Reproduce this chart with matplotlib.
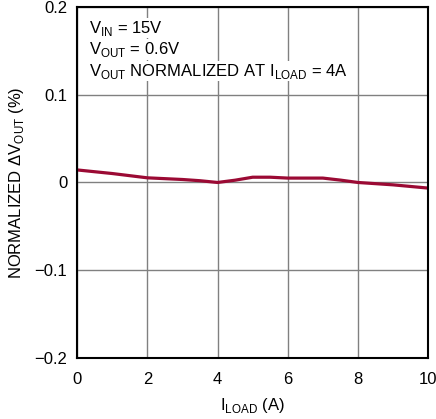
import matplotlib.pyplot as plt

# data
i_load = [0, 1, 2, 3, 3.5, 4, 4.5, 5, 5.5, 6, 7, 7.5, 8, 9, 10]
dv_out = [0.0143, 0.0102, 0.0053, 0.0034, 0.002, 0.0, 0.0026, 0.006, 0.006,
          0.005, 0.005, 0.0027, 0.0, -0.0027, -0.0064]
x_ticks = [0, 2, 4, 6, 8, 10]
y_ticks = [-0.2, -0.1, 0, 0.1, 0.2]
y_tick_labels = ['\u22120.2', '\u22120.1', '0', '0.1', '0.2']

plt.rcParams['font.family'] = ['Liberation Sans', 'DejaVu Sans']
plt.rcParams['mathtext.fontset'] = 'custom'
plt.rcParams['mathtext.rm'] = 'Liberation Sans'

fig = plt.figure(figsize=(4.36, 4.19), dpi=100)
ax = fig.add_axes([0.177, 0.146, 0.805, 0.837])

ax.plot(i_load, dv_out, color='#9b0a34', lw=2.3, solid_capstyle='round')

ax.set_xlim(0, 10)
ax.set_ylim(-0.2, 0.2)
ax.set_xticks(x_ticks)
ax.set_yticks(y_ticks)
ax.set_yticklabels(y_tick_labels)
ax.tick_params(length=0, labelsize=12)
ax.tick_params(axis='x', pad=10)
ax.tick_params(axis='y', pad=7)
ax.grid(True, color='#808080', lw=1)
for s in ax.spines.values():
    s.set_linewidth(1.5)

ax.set_xlabel(r'I$_{\mathregular{LOAD}}$ (A)', fontsize=12, labelpad=7)
ax.set_ylabel(r'NORMALIZED $\Delta$V$_{\mathregular{OUT}}$ (%)', fontsize=12, labelpad=6)

notes = [r'V$_{\mathregular{IN}}$ = 15V',
         r'V$_{\mathregular{OUT}}$ = 0.6V',
         r'V$_{\mathregular{OUT}}$ NORMALIZED AT I$_{\mathregular{LOAD}}$ = 4A']
for k, t in enumerate(notes):
    ax.text(0.34, 0.176 - k * 0.0245, t, fontsize=12, va='center',
            bbox=dict(facecolor='white', edgecolor='none', pad=0.5))

fig.savefig('out.png', dpi=100)
